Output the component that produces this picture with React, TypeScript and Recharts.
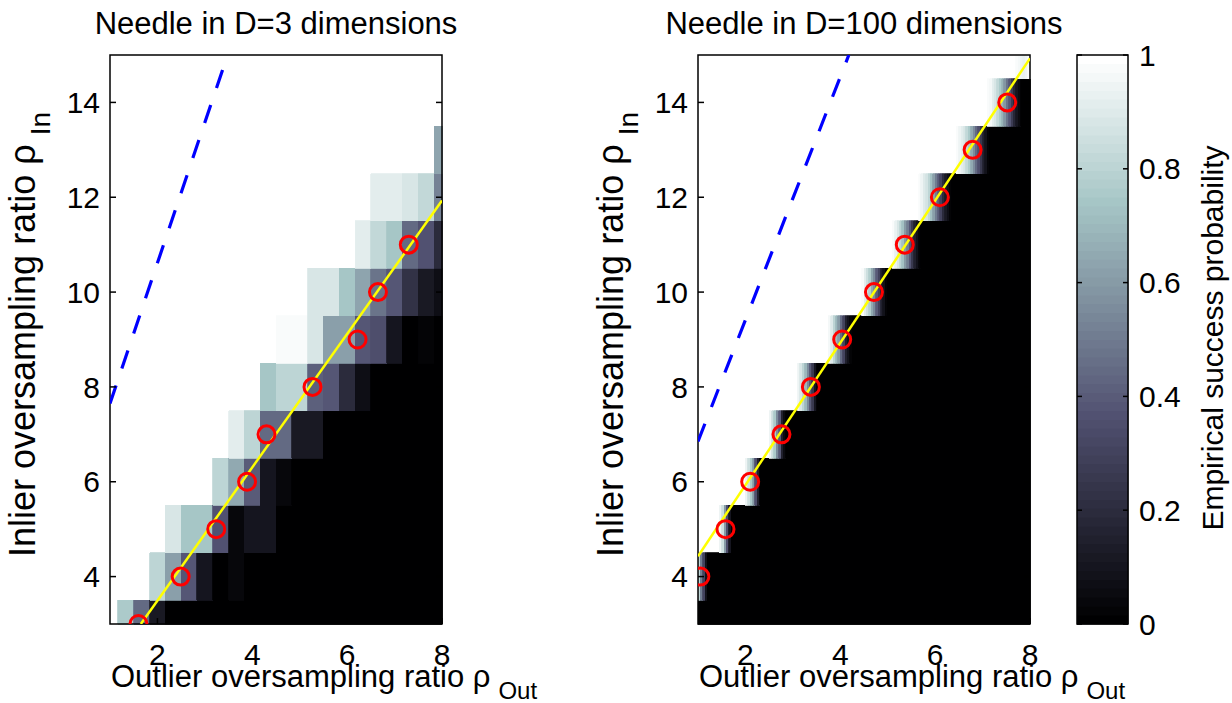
import React from 'react';
import { ComposedChart, XAxis, YAxis, ReferenceArea, Line, Scatter } from 'recharts';

// ---------- axes ----------
const xTicks = [2, 4, 6, 8];
const yTicks = [4, 6, 8, 10, 12, 14];
const colorbarTicks = [0, 0.2, 0.4, 0.6, 0.8, 1];
const xDomain: [number, number] = [1, 8];
const yDomain: [number, number] = [3, 15];

// ---------- grid rows (inlier ratio) ----------
const rowY = [3, 4, 5, 6, 7, 8, 9, 10, 11, 12, 13, 14, 15];

// ---------- left panel (D=3): column centres ----------
const leftColumnX = [1, 1.333, 1.667, 2, 2.333, 2.667, 3, 3.333, 3.667, 4, 4.333, 4.667, 5, 5.333, 5.667, 6, 6.333, 6.667, 7, 7.333, 7.667, 8];

// success probability per row (22 columns)
const leftRow3 = [1, 0.76, 0.45, 0.12, 0, 0, 0, 0, 0, 0, 0, 0, 0, 0, 0, 0, 0, 0, 0, 0, 0, 0];
const leftRow4 = [1, 1, 1, 0.8, 0.62, 0.38, 0.1, 0, 0.04, 0, 0, 0, 0, 0, 0, 0, 0, 0, 0, 0, 0, 0];
const leftRow5 = [1, 1, 1, 1, 0.88, 0.74, 0.74, 0.36, 0.04, 0.1, 0.1, 0, 0, 0, 0, 0, 0, 0, 0, 0, 0, 0];
const leftRow6 = [1, 1, 1, 1, 1, 1, 1, 0.8, 0.65, 0.4, 0.1, 0.04, 0, 0, 0, 0, 0, 0, 0, 0, 0, 0];
const leftRow7 = [1, 1, 1, 1, 1, 1, 1, 1, 0.92, 0.8, 0.45, 0.45, 0.11, 0.11, 0, 0, 0, 0, 0, 0, 0, 0];
const leftRow8 = [1, 1, 1, 1, 1, 1, 1, 1, 1, 1, 0.74, 0.8, 0.8, 0.42, 0.38, 0.2, 0.07, 0, 0, 0, 0, 0];
const leftRow9 = [1, 1, 1, 1, 1, 1, 1, 1, 1, 1, 1, 0.97, 0.97, 0.88, 0.62, 0.62, 0.38, 0.35, 0.1, 0, 0.03, 0];
const leftRow10 = [1, 1, 1, 1, 1, 1, 1, 1, 1, 1, 1, 1, 1, 0.88, 0.88, 0.74, 0.63, 0.47, 0.38, 0.22, 0.11, 0.07];
const leftRow11 = [1, 1, 1, 1, 1, 1, 1, 1, 1, 1, 1, 1, 1, 1, 1, 1, 0.92, 0.82, 0.74, 0.45, 0.36, 0.2];
const leftRow12 = [1, 1, 1, 1, 1, 1, 1, 1, 1, 1, 1, 1, 1, 1, 1, 1, 1, 0.92, 0.92, 0.89, 0.82, 0.53];
const leftRow13 = [1, 1, 1, 1, 1, 1, 1, 1, 1, 1, 1, 1, 1, 1, 1, 1, 1, 1, 1, 1, 1, 0.63];
const leftRow14 = [1, 1, 1, 1, 1, 1, 1, 1, 1, 1, 1, 1, 1, 1, 1, 1, 1, 1, 1, 1, 1, 1];
const leftRow15 = [1, 1, 1, 1, 1, 1, 1, 1, 1, 1, 1, 1, 1, 1, 1, 1, 1, 1, 1, 1, 1, 1];
const leftGrid = [leftRow3, leftRow4, leftRow5, leftRow6, leftRow7, leftRow8, leftRow9, leftRow10, leftRow11, leftRow12, leftRow13, leftRow14, leftRow15];

// ---------- right panel (D=100): success 1 left of band, 0 right of band ----------
const rightBandStep = 0.05;
const rightBandStart = [1, 1, 1.45, 2.0, 2.5, 3.1, 3.75, 4.45, 5.1, 5.65, 6.45, 7.1, 7.7];
const rightBand3: number[] = [];
const rightBand4 = [0.8, 0.5, 0.3, 0.08];
const rightBand5 = [0.95, 0.85, 0.6, 0.35, 0.1];
const rightBand6 = [0.95, 0.85, 0.75, 0.6, 0.35, 0.15];
const rightBand7 = [0.95, 0.85, 0.75, 0.55, 0.4, 0.15, 0.05];
const rightBand8 = [0.95, 0.88, 0.8, 0.7, 0.55, 0.4, 0.25, 0.1];
const rightBand9 = [0.96, 0.9, 0.8, 0.7, 0.6, 0.45, 0.3, 0.15, 0.08, 0.03];
const rightBand10 = [0.97, 0.92, 0.85, 0.78, 0.65, 0.55, 0.4, 0.3, 0.15, 0.08, 0.03];
const rightBand11 = [0.97, 0.93, 0.88, 0.8, 0.72, 0.6, 0.5, 0.38, 0.25, 0.15, 0.08, 0.03];
const rightBand12 = [0.97, 0.95, 0.9, 0.86, 0.8, 0.72, 0.62, 0.5, 0.4, 0.3, 0.2, 0.12, 0.07, 0.03];
const rightBand13 = [0.98, 0.95, 0.92, 0.88, 0.82, 0.75, 0.65, 0.55, 0.45, 0.35, 0.25, 0.15, 0.08, 0.03];
const rightBand14 = [0.98, 0.96, 0.92, 0.88, 0.82, 0.75, 0.68, 0.58, 0.48, 0.38, 0.28, 0.18, 0.1, 0.05];
const rightBand15 = [0.98, 0.96, 0.95, 0.93, 0.95, 0.97];
const rightBands = [rightBand3, rightBand4, rightBand5, rightBand6, rightBand7, rightBand8, rightBand9, rightBand10, rightBand11, rightBand12, rightBand13, rightBand14, rightBand15];

// ---------- overlays ----------
const leftCircleX = [1.6, 2.49, 3.24, 3.89, 4.3, 5.27, 6.22, 6.65, 7.3];
const leftCircleY = [3, 4, 5, 6, 7, 8, 9, 10, 11];
const rightCircleX = [1.05, 1.58, 2.1, 2.76, 3.38, 4.04, 4.71, 5.36, 6.1, 6.79, 7.52];
const rightCircleY = [4, 5, 6, 7, 8, 9, 10, 11, 12, 13, 14];
const leftYellowX = [1.65, 8];
const leftYellowY = [3, 11.93];
const rightYellowX = [1, 8];
const rightYellowY = [4.43, 14.93];
const leftBlueX = [1, 3.48];
const leftBlueY = [7.65, 15];
const rightBlueX = [1, 4.18];
const rightBlueY = [6.85, 15];

const FONT = '"Liberation Sans", Arial, Helvetica, sans-serif';

// MATLAB bone(64) colormap
function boneIndex(k: number): string {
  const g = k / 63;
  const hr = k < 24 ? (k + 1) / 24 : 1;
  const hg = k < 24 ? 0 : k < 48 ? (k - 23) / 24 : 1;
  const hb = k < 48 ? 0 : (k - 47) / 16;
  const r = (7 * g + hb) / 8;
  const gg = (7 * g + hg) / 8;
  const b = (7 * g + hr) / 8;
  const c = (v: number) => Math.round(Math.min(1, v) * 255);
  return `rgb(${c(r)},${c(gg)},${c(b)})`;
}
function boneColor(v: number): string {
  return boneIndex(Math.max(0, Math.min(63, Math.floor(v * 64))));
}

type Cell = { x1: number; x2: number; y1: number; y2: number; v: number };

function buildLeftCells(): Cell[] {
  const half = (leftColumnX[1] - leftColumnX[0]) / 2;
  const cells: Cell[] = [];
  leftGrid.forEach((row, r) => {
    const y = rowY[r];
    let i = 0;
    while (i < row.length) {
      let j = i;
      while (j + 1 < row.length && row[j + 1] === row[i]) j++;
      if (row[i] < 1) {
        cells.push({
          x1: Math.max(xDomain[0], leftColumnX[i] - half),
          x2: Math.min(xDomain[1], leftColumnX[j] + half),
          y1: Math.max(yDomain[0], y - 0.5),
          y2: Math.min(yDomain[1], y + 0.5),
          v: row[i],
        });
      }
      i = j + 1;
    }
  });
  return cells;
}

function buildRightCells(): Cell[] {
  const cells: Cell[] = [];
  rightBands.forEach((band, r) => {
    const y = rowY[r];
    const y1 = Math.max(yDomain[0], y - 0.5);
    const y2 = Math.min(yDomain[1], y + 0.5);
    const start = rightBandStart[r];
    band.forEach((v, i) => {
      cells.push({ x1: start + i * rightBandStep, x2: Math.min(xDomain[1], start + (i + 1) * rightBandStep), y1, y2, v });
    });
    const end = start + band.length * rightBandStep;
    if (end < xDomain[1] - 1e-6) cells.push({ x1: end, x2: xDomain[1], y1, y2, v: 0 });
  });
  return cells;
}

const toPoints = (xs: number[], ys: number[]) => xs.map((x, i) => ({ x, y: ys[i] }));

const Ring = (props: any) => (
  <circle cx={props.cx} cy={props.cy} r={8.5} fill="none" stroke="#ff0000" strokeWidth={3} />
);

const NoTick = () => <g />;

const tickStyle = { fontSize: 30, fill: '#000', fontFamily: FONT };
const tickLineStyle = { stroke: '#000', strokeWidth: 1.5 };

function Panel(props: {
  cells: Cell[];
  yellowX: number[]; yellowY: number[];
  blueX: number[]; blueY: number[];
  circleX: number[]; circleY: number[];
}) {
  return (
    <ComposedChart width={470} height={703} margin={{ top: 54, right: 27, bottom: 39, left: 0 }}>
      <XAxis type="number" dataKey="x" domain={xDomain} ticks={xTicks} allowDataOverflow
        height={40} tickSize={-6} tickMargin={26} axisLine={false}
        tickLine={tickLineStyle} tick={tickStyle} interval={0} />
      <XAxis xAxisId="top" orientation="top" type="number" domain={xDomain} ticks={xTicks} allowDataOverflow
        height={1} tickSize={-6} axisLine={false} tick={NoTick}
        tickLine={tickLineStyle} interval={0} />
      <YAxis type="number" dataKey="y" domain={yDomain} ticks={yTicks} allowDataOverflow
        width={110} tickSize={-6} tickMargin={16} axisLine={false}
        tickLine={tickLineStyle} tick={tickStyle} interval={0} />
      <YAxis yAxisId="right" orientation="right" type="number" domain={yDomain} ticks={yTicks} allowDataOverflow
        width={1} tickSize={-6} axisLine={false} tick={NoTick}
        tickLine={tickLineStyle} interval={0} />
      {props.cells.map((c, i) => (
        <ReferenceArea key={i} x1={c.x1} x2={c.x2} y1={c.y1} y2={c.y2}
          fill={boneColor(c.v)} fillOpacity={1} stroke={boneColor(c.v)} strokeWidth={0.8}
          shapeRendering="crispEdges" ifOverflow="visible" />
      ))}
      <Line data={toPoints(props.blueX, props.blueY)} dataKey="y" type="linear" stroke="#0000ff"
        strokeWidth={3.2} strokeDasharray="19 18" dot={false} activeDot={false} isAnimationActive={false} />
      <Line data={toPoints(props.yellowX, props.yellowY)} dataKey="y" type="linear" stroke="#ffff00"
        strokeWidth={2.5} dot={false} activeDot={false} isAnimationActive={false} />
      <Scatter data={toPoints(props.circleX, props.circleY)} dataKey="y" shape={Ring} isAnimationActive={false} />
      <ReferenceArea x1={xDomain[0]} x2={xDomain[1]} y1={yDomain[0]} y2={yDomain[1]}
        fill="none" fillOpacity={0} stroke="#000" strokeWidth={1.5} ifOverflow="visible" />
    </ComposedChart>
  );
}

const colorbarLevels = Array.from({ length: 64 }, (_, k) => k);

function Colorbar() {
  return (
    <ComposedChart width={232} height={703} margin={{ top: 55, right: 44, bottom: 78, left: 76 }}>
      <XAxis type="number" dataKey="x" domain={[0, 1]} allowDataOverflow height={1}
        axisLine={false} tickLine={false} tick={NoTick} ticks={[0, 1]} />
      <YAxis type="number" dataKey="y" orientation="right" domain={[0, 1]} ticks={colorbarTicks} allowDataOverflow
        width={60} tickSize={-5} tickMargin={16} axisLine={false}
        tickLine={tickLineStyle} tick={tickStyle} interval={0}
        tickFormatter={(v: number) => String(v)} />
      <YAxis yAxisId="L" orientation="left" type="number" domain={[0, 1]} ticks={colorbarTicks} allowDataOverflow
        width={1} tickSize={-5} axisLine={false} tick={NoTick}
        tickLine={tickLineStyle} interval={0} />
      {colorbarLevels.map((k) => (
        <ReferenceArea key={k} x1={0} x2={1} y1={k / 64} y2={(k + 1) / 64}
          fill={boneIndex(k)} fillOpacity={1} stroke={boneIndex(k)} strokeWidth={0.5}
          shapeRendering="crispEdges" ifOverflow="visible" />
      ))}
      <ReferenceArea x1={0} x2={1} y1={0} y2={1} fill="none" fillOpacity={0}
        stroke="#000" strokeWidth={1.5} ifOverflow="visible" />
    </ComposedChart>
  );
}

export default function App() {
  const leftCells = buildLeftCells();
  const rightCells = buildRightCells();
  return (
    <div style={{ position: 'absolute', left: 0, top: 0, width: 1232, height: 703, background: '#fff', overflow: 'hidden' }}>
      <div style={{ position: 'absolute', left: 0, top: 0 }}>
        <Panel cells={leftCells} yellowX={leftYellowX} yellowY={leftYellowY} blueX={leftBlueX} blueY={leftBlueY}
          circleX={leftCircleX} circleY={leftCircleY} />
      </div>
      <div style={{ position: 'absolute', left: 588, top: 0 }}>
        <Panel cells={rightCells} yellowX={rightYellowX} yellowY={rightYellowY} blueX={rightBlueX} blueY={rightBlueY}
          circleX={rightCircleX} circleY={rightCircleY} />
      </div>
      <div style={{ position: 'absolute', left: 1000, top: 0 }}>
        <Colorbar />
      </div>
      <svg width={1232} height={703} style={{ position: 'absolute', left: 0, top: 0, pointerEvents: 'none' }}
        fontFamily={FONT} fill="#000">
        <text x={276} y={34} fontSize={31} textAnchor="middle">Needle in D=3 dimensions</text>
        <text x={864} y={34} fontSize={31} textAnchor="middle">Needle in D=100 dimensions</text>
        <text x={111} y={687} fontSize={31}>Outlier oversampling ratio ρ<tspan dx={8} dy={12} fontSize={24}>Out</tspan></text>
        <text x={699} y={687} fontSize={31}>Outlier oversampling ratio ρ<tspan dx={8} dy={12} fontSize={24}>Out</tspan></text>
        <text transform="translate(35,557) rotate(-90)" fontSize={36}>Inlier oversampling ratio ρ<tspan dx={9} dy={15} fontSize={28}>In</tspan></text>
        <text transform="translate(623,557) rotate(-90)" fontSize={36}>Inlier oversampling ratio ρ<tspan dx={9} dy={15} fontSize={28}>In</tspan></text>
        <text transform="translate(1223,338) rotate(-90)" fontSize={30} textAnchor="middle">Empirical success probability</text>
      </svg>
    </div>
  );
}
